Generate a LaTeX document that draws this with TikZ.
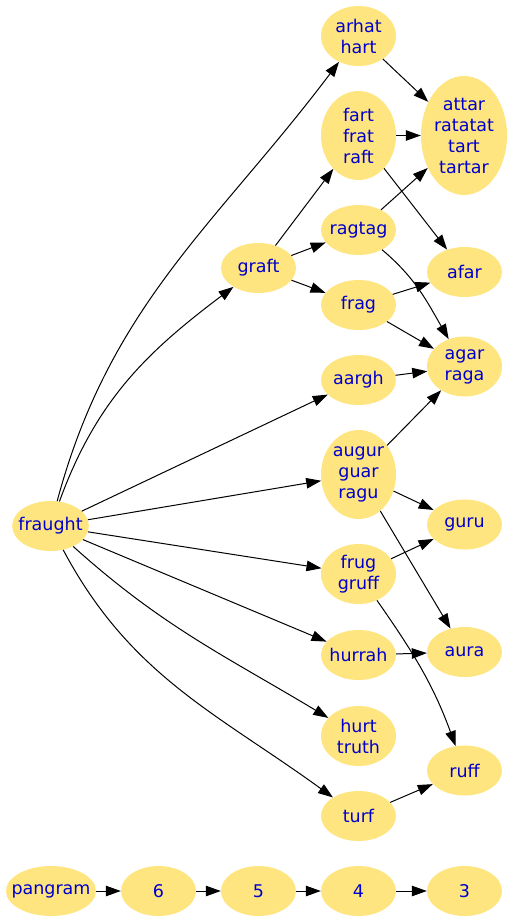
\documentclass[tikz,border=0pt]{standalone}
\usepackage{fontspec}
\setmainfont{DejaVu Sans}
\usepackage{tikz}
\usetikzlibrary{shapes.geometric, arrows.meta}
\definecolor{wordfill}{RGB}{255,229,127}
\definecolor{wordblue}{RGB}{0,0,205}

\begin{document}
\begin{tikzpicture}[x=1pt, y=-1pt,
  word/.style={ellipse, fill=wordfill, text=wordblue, align=center, inner xsep=-5pt, inner ysep=0pt,
    minimum width=75pt, minimum height=50pt, font=\fontsize{17.5}{21}\selectfont},
  two/.style={minimum height=60pt},
  three/.style={minimum height=89pt},
  four/.style={minimum height=119pt, minimum width=86pt},
  edge/.style={-{Triangle[length=15pt, width=10.5pt]}, line width=1pt}]
  \useasboundingbox (0,0) rectangle (513,922);

  % Root word
  \node[word] (fraught) at (50.5,526) {fraught};

  % Middle column
  \node[word, two] (arhat) at (358.5,36) {arhat\\hart};
  \node[word, three] (fart) at (358.5,135.5) {fart\\frat\\raft};
  \node[word] (ragtag) at (358.5,230) {ragtag};
  \node[word] (graft) at (258.5,268) {graft};
  \node[word] (frag) at (358.5,305) {frag};
  \node[word] (aargh) at (358.5,380) {aargh};
  \node[word, three] (augur) at (358.5,474.5) {augur\\guar\\ragu};
  \node[word, two] (frug) at (358.5,574) {frug\\gruff};
  \node[word] (hurrah) at (358.5,655) {hurrah};
  \node[word, two] (hurt) at (358.5,736) {hurt\\truth};
  \node[word] (turf) at (358.5,816) {turf};

  % Right column
  \node[word, four] (attar) at (464,135.5) {attar\\ratatat\\tart\\tartar};
  \node[word] (afar) at (464.5,272) {afar};
  \node[word, two] (agar) at (464.5,366.5) {agar\\raga};
  \node[word] (guru) at (464.5,524.5) {guru};
  \node[word] (aura) at (464.5,652) {aura};
  \node[word] (ruff) at (464.5,770.5) {ruff};

  % Legend row
  \node[word, inner xsep=-8pt, minimum width=90pt] (pangram) at (51,891) {pangram};
  \node[word] (six) at (158.5,891) {6};
  \node[word] (five) at (258.5,891) {5};
  \node[word] (four) at (358.5,891) {4};
  \node[word] (three) at (464.5,891) {3};

  % Edges out of fraught
  \draw[edge] (fraught) to[out=75, in=-127] (arhat);
  \draw[edge] (fraught) to[out=70, in=-143] (graft);
  \draw[edge] (fraught) -- (aargh);
  \draw[edge] (fraught) -- (augur);
  \draw[edge] (fraught) -- (frug);
  \draw[edge] (fraught) -- (hurrah);
  \draw[edge] (fraught) to[out=-42, in=149] (hurt);
  \draw[edge] (fraught) to[out=-62, in=144] (turf);

  % Edges out of graft
  \draw[edge] (graft) -- (fart);
  \draw[edge] (graft) -- (ragtag);
  \draw[edge] (graft) -- (frag);

  % Middle column to right column
  \draw[edge] (arhat) -- (attar);
  \draw[edge] (fart) -- (attar);
  \draw[edge] (fart) -- (afar);
  \draw[edge] (ragtag) -- (attar);
  \draw[edge] (ragtag) to[out=-40, in=120] (agar);
  \draw[edge] (frag) -- (afar);
  \draw[edge] (frag) -- (agar);
  \draw[edge] (aargh) -- (agar);
  \draw[edge] (augur) -- (agar);
  \draw[edge] (augur) -- (guru);
  \draw[edge] (augur) -- (aura);
  \draw[edge] (frug) -- (guru);
  \draw[edge] (frug) to[out=-55, in=110] (ruff);
  \draw[edge] (hurrah) -- (aura);
  \draw[edge] (turf) -- (ruff);

  % Legend chain
  \draw[edge] (pangram) -- (six);
  \draw[edge] (six) -- (five);
  \draw[edge] (five) -- (four);
  \draw[edge] (four) -- (three);
\end{tikzpicture}
\end{document}
